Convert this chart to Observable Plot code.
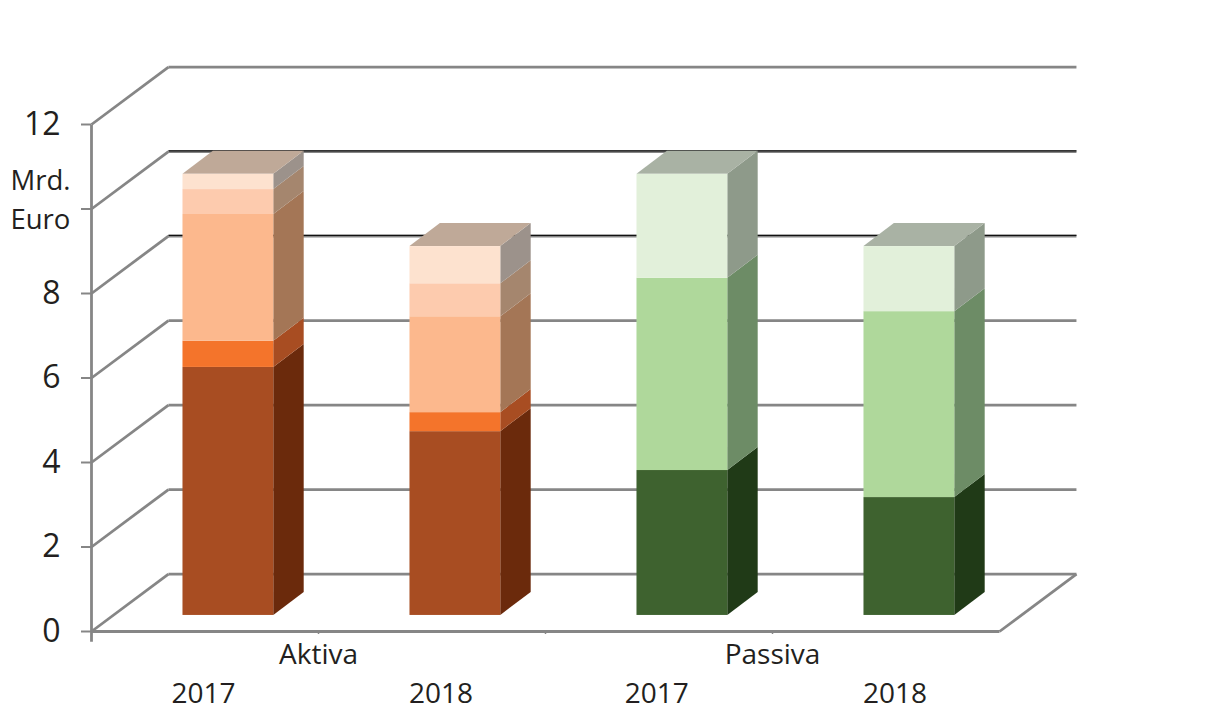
<!DOCTYPE html>
<html>
<head>
<meta charset="utf-8">
<script src="https://cdn.jsdelivr.net/npm/d3@7"></script>
<script src="https://cdn.jsdelivr.net/npm/@observablehq/plot@0.6"></script>
<style>html,body{margin:0;padding:0;background:#fff}svg{display:block}</style>
</head>
<body>
<div id="chart"></div>
<script>
// Values (Mrd. Euro), bottom to top of each stack
const aktiva2017 = [5.87, 0.62, 3.0, 0.59, 0.36];
const aktiva2018 = [4.35, 0.45, 2.27, 0.78, 0.88];
const passiva2017 = [3.43, 4.55, 2.46];
const passiva2018 = [2.79, 4.4, 1.54];
const stacks = [aktiva2017, aktiva2018, passiva2017, passiva2018];
const groupTicks = [1, 2, 3];
const groupNames = {1: "Aktiva", 3: "Passiva"};
const yearLabels = ["2017", "2018", "2017", "2018"];
const yearPositions = [0.493, 1.54, 2.49, 3.54];
const yTicks = [0, 2, 4, 6, 8, 10, 12];
const yHiddenLabels = [10];
const unitLabels = ["Mrd.", "Euro"];
const unitPositions = [10.65, 9.73];

const orangeFront = ["#a84d22", "#f4742b", "#fcb88d", "#fdcbae", "#fde2cf"];
const orangeSide = ["#6b2a0c", "#a84d22", "#a47656", "#a5866e", "#9c928b"];
const greenFront = ["#3e622f", "#afd89b", "#e2f0da"];
const greenSide = ["#203a17", "#6d8c66", "#8e9a8a"];
const orangeTop = "#bfa998";
const greenTop = "#a9b2a4";

// Oblique projection, in data units
const wallDx = 0.339, wallDy = 1.36;   // depth of the floor
const barShiftDx = 0.103, barShiftDy = 0.38; // bar set back from the front edge
const barDx = 0.134, barDy = 0.545;    // depth of a bar
const barStart = 0.3, barWidth = 0.4;

const fronts = [], sides = [], tops = [];
stacks.forEach((values, i) => {
  const green = i >= 2;
  const frontColors = green ? greenFront : orangeFront;
  const sideColors = green ? greenSide : orangeSide;
  const x1 = i + barStart + barShiftDx, x2 = x1 + barWidth;
  let base = barShiftDy;
  values.forEach((v, j) => {
    const top = base + v;
    fronts.push({x1, x2, y1: base, y2: top, fill: frontColors[j]});
    const id = `${i}-${j}`;
    sides.push({id, x: x2, y1: base, y2: top, fill: sideColors[j]});
    sides.push({id, x: x2 + barDx, y1: base + barDy, y2: top + barDy, fill: sideColors[j]});
    base = top;
  });
  const topFill = green ? greenTop : orangeTop;
  tops.push({id: i, y: base, x1, x2, fill: topFill});
  tops.push({id: i, y: base + barDy, x1: x1 + barDx, x2: x2 + barDx, fill: topFill});
});

const gridColor = "#868686";
const textColor = "#231f20";
const font = "'Open Sans', sans-serif";

const chart = Plot.plot({
  width: 1205,
  height: 728,
  marginLeft: 91,
  marginRight: 206,
  marginTop: 124,
  marginBottom: 97,
  style: {background: "#fff", fontFamily: font},
  x: {domain: [0, 4]},
  y: {domain: [0, 12]},
  color: {type: "identity"},
  marks: [
    // back wall
    Plot.link(yTicks, {x1: wallDx, x2: 4 + wallDx, y1: d => d + wallDy, y2: d => d + wallDy, stroke: gridColor, strokeWidth: 2.8}),
    Plot.link([8, 10], {x1: wallDx, x2: 4 + wallDx, y1: d => d + wallDy, y2: d => d + wallDy, stroke: "#111", strokeWidth: 1.2, dy: -0.6}),
    // left wall
    Plot.link(yTicks, {x1: 0, x2: wallDx, y1: d => d, y2: d => d + wallDy, stroke: gridColor, strokeWidth: 2.8}),
    // floor
    Plot.link([0], {x1: 4, x2: 4 + wallDx, y1: 0, y2: wallDy, stroke: gridColor, strokeWidth: 2.8}),
    Plot.link([0], {x1: 0, x2: 4, y1: 0, y2: 0, stroke: gridColor, strokeWidth: 2.8}),
    Plot.link([0], {x1: 0, x2: 0, y1: -0.24, y2: 12, stroke: gridColor, strokeWidth: 2.8}),
    // axes
    Plot.axisY({ticks: yTicks, tickSize: 10, tickPadding: 21, stroke: gridColor, strokeWidth: 2, fill: textColor, fontSize: 32, tickFormat: d => yHiddenLabels.includes(d) ? "" : String(d), label: null}),
    Plot.axisX({ticks: groupTicks, tickSize: 3, tickPadding: 10, stroke: gridColor, strokeWidth: 1.5, fill: textColor, fontSize: 28, tickFormat: d => groupNames[d] ?? "", label: null}),
    // bars
    Plot.areaY(sides, {x: "x", y1: "y1", y2: "y2", z: "id", fill: "fill"}),
    Plot.areaX(tops, {y: "y", x1: "x1", x2: "x2", z: "id", fill: "fill"}),
    Plot.rect(fronts, {x1: "x1", x2: "x2", y1: "y1", y2: "y2", fill: "fill", inset: 0}),
    // labels
    Plot.text(yearLabels, {x: (d, i) => yearPositions[i], y: -1.47, text: d => d, fill: textColor, fontSize: 28}),
    Plot.text(unitLabels, {x: -0.357, y: (d, i) => unitPositions[i], text: d => d, textAnchor: "start", fill: textColor, fontSize: 27.5})
  ]
});
document.getElementById("chart").append(chart);
</script>
</body>
</html>
